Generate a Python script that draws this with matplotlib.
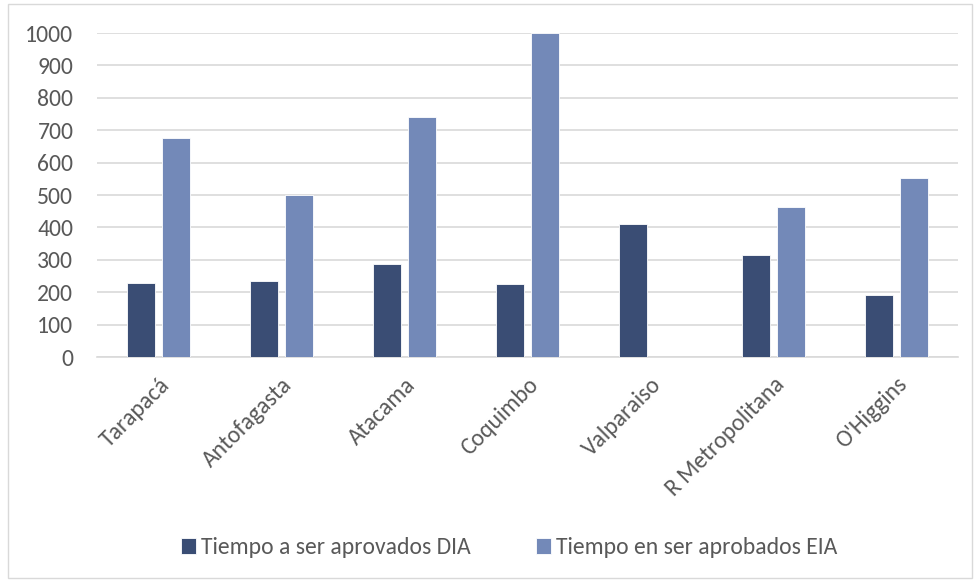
import numpy as np
import matplotlib.pyplot as plt
from matplotlib.patches import Rectangle

regiones = ['Tarapacá', 'Antofagasta', 'Atacama', 'Coquimbo', 'Valparaiso',
            'R Metropolitana', "O'Higgins"]
dia = [227, 234, 286, 225, 411, 314, 191]
eia = [676, 500, 740, 1000, 0, 462, 552]
yticks = [0, 100, 200, 300, 400, 500, 600, 700, 800, 900, 1000]

plt.rcParams['font.family'] = ['Carlito', 'Liberation Sans', 'DejaVu Sans']

W, H = 974, 581
fig = plt.figure(figsize=(W/100, H/100), dpi=100)
ax = fig.add_axes([97/W, 1-357/H, (958-97)/W, (357-33)/H])

# chart frame
fig.patches.append(Rectangle((8/W, 3/H), 964/W, 574/H, transform=fig.transFigure,
                             fill=False, edgecolor='#d9d9d9', lw=1))

x = np.arange(len(regiones))
w = 0.225
ax.bar(x - 0.144, dia, w, color='#3a4d74', edgecolor='white', linewidth=0.6,
       label='Tiempo a ser aprovados DIA', zorder=3)
ax.bar(x + 0.144, eia, w, color='#7389b8', edgecolor='white', linewidth=0.6,
       label='Tiempo en ser aprobados EIA', zorder=3)

ax.set_xlim(-0.5, len(regiones) - 0.5)
ax.set_ylim(0, 1000)
ax.set_yticks(yticks)
ax.yaxis.grid(True, color='#d9d9d9', lw=1.2, zorder=0)
for s in ['top', 'right', 'left']:
    ax.spines[s].set_visible(False)
ax.spines['bottom'].set_color('#d9d9d9')
ax.spines['bottom'].set_linewidth(1.2)
ax.tick_params(length=0, labelsize=17, colors='#595959')
ax.tick_params(axis='y', pad=17)
ax.tick_params(axis='x', pad=12)
ax.set_xticks(x)
ax.set_xticklabels(regiones, rotation=45, ha='right', rotation_mode='anchor')

fig.legend(loc='center', bbox_to_anchor=(509/W, 1-548/H), ncol=2, frameon=False,
           fontsize=17, labelcolor='#595959', handlelength=0.65, handleheight=0.65,
           handletextpad=0.2, columnspacing=2.75)

fig.savefig('out.png', dpi=100)
